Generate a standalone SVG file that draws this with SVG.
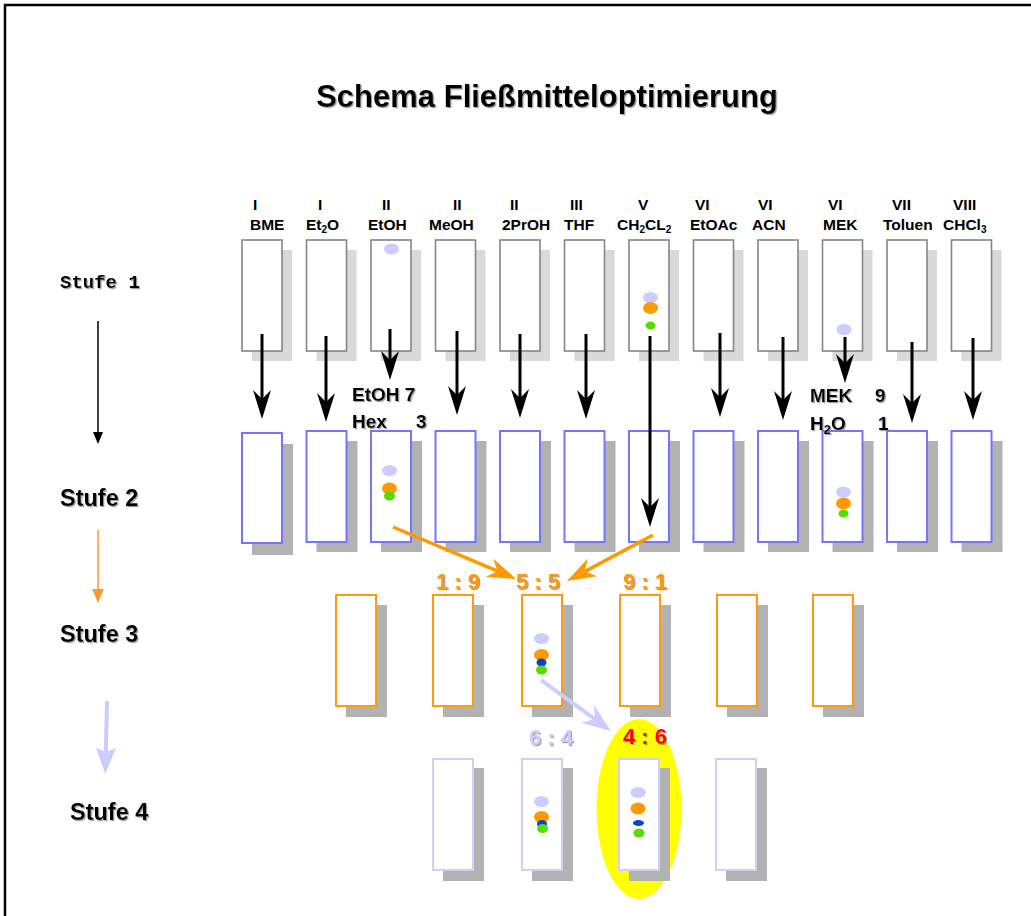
<svg xmlns="http://www.w3.org/2000/svg" width="1031" height="916" viewBox="0 0 1031 916">
<style>
.bg{fill:#fff}
.b1{fill:#fff;stroke:#858585;stroke-width:1.6}
.s1{fill:#d9d9d9}
.b2{fill:#fff;stroke:#7474ff;stroke-width:2}
.b3{fill:#fff;stroke:#ff9a0a;stroke-width:2}
.b4{fill:#fff;stroke:#cfcff9;stroke-width:2}
.s2{fill:#b2b2b2}
.hd{font-family:"Liberation Sans",Arial,sans-serif;font-weight:bold;font-size:15.5px;fill:#000}
.sub{font-size:10px}
.lbl{font-family:"Liberation Sans",Arial,sans-serif;font-weight:bold;font-size:19px;fill:#000;filter:url(#sh)}
.stm{font-family:"Liberation Mono","Courier New",monospace;font-weight:bold;font-size:19px;fill:#000;filter:url(#sh)}
.st{font-family:"Liberation Sans",Arial,sans-serif;font-weight:bold;font-size:23.5px;fill:#000;filter:url(#sh)}
.rt{font-family:"Liberation Sans",Arial,sans-serif;font-weight:bold;font-size:22px;filter:url(#sh)}
.lav{fill:#ccccff}.org{fill:#ff9900}.grn{fill:#55dd00}.blu{fill:#0044dd}
.ab{stroke:#000;stroke-width:3;fill:none;marker-end:url(#mb)}
.ao{stroke:#ff9900;stroke-width:3.5;fill:none;marker-end:url(#mo)}
.al{stroke:#ccccff;stroke-width:4;fill:none;marker-end:url(#ml)}
</style>
<defs>
<filter id="sh" x="-10%" y="-20%" width="130%" height="150%">
<feDropShadow dx="1.2" dy="1.2" stdDeviation="0.6" flood-color="#888" flood-opacity="0.8"/>
</filter>
<marker id="mb" markerUnits="userSpaceOnUse" viewBox="0 0 29 18" markerWidth="29" markerHeight="18" refX="9" refY="9" orient="auto"><path d="M0,0 L29,9 L0,18 L9,9 Z" fill="#000"/></marker>
<marker id="mo" markerUnits="userSpaceOnUse" viewBox="0 0 29 20" markerWidth="29" markerHeight="20" refX="9" refY="10" orient="auto"><path d="M0,0 L29,10 L0,20 L9,10 Z" fill="#ff9900"/></marker>
<marker id="ml" markerUnits="userSpaceOnUse" viewBox="0 0 29 22" markerWidth="29" markerHeight="22" refX="9" refY="11" orient="auto"><path d="M0,0 L29,11 L0,22 L9,11 Z" fill="#ccccff"/></marker>
<marker id="tb" markerUnits="userSpaceOnUse" viewBox="0 0 12 10" markerWidth="12" markerHeight="10" refX="1" refY="5" orient="auto"><path d="M0,0 L12,5 L0,10 Z" fill="#000"/></marker>
<marker id="to" markerUnits="userSpaceOnUse" viewBox="0 0 14 12" markerWidth="14" markerHeight="12" refX="1" refY="6" orient="auto"><path d="M0,0 L14,6 L0,12 Z" fill="#ff9933"/></marker>
<marker id="tl" markerUnits="userSpaceOnUse" viewBox="0 0 26 20" markerWidth="26" markerHeight="20" refX="4" refY="10" orient="auto"><path d="M0,0 L26,10 L0,20 L4,10 Z" fill="#ccccff"/></marker>
</defs>
<rect class="bg" x="0" y="0" width="1031" height="916"/>
<path d="M5,930 V5 H1045" fill="none" stroke="#000" stroke-width="2.5"/>
<text x="547" y="107" text-anchor="middle" style="font-family:'Liberation Sans',Arial,sans-serif;font-weight:bold;font-size:31px;filter:url(#sh)">Schema Fließmitteloptimierung</text>

<g id="stages">
<text class="stm" x="60" y="288">Stufe 1</text>
<text class="st" x="60" y="506">Stufe 2</text>
<text class="st" x="60" y="642">Stufe 3</text>
<text class="st" x="70" y="820">Stufe 4</text>
</g>

<g id="headers">
<text class="hd" x="253" y="210">I</text><text class="hd" x="250" y="230">BME</text>
<text class="hd" x="318" y="210">I</text><text class="hd" x="306" y="230">Et<tspan class="sub" dy="3">2</tspan><tspan dy="-3">O</tspan></text>
<text class="hd" x="382" y="210">II</text><text class="hd" x="368" y="230">EtOH</text>
<text class="hd" x="453" y="210">II</text><text class="hd" x="429" y="230">MeOH</text>
<text class="hd" x="510" y="210">II</text><text class="hd" x="502" y="230">2PrOH</text>
<text class="hd" x="570" y="210">III</text><text class="hd" x="564" y="230">THF</text>
<text class="hd" x="638" y="210">V</text><text class="hd" x="617" y="230">CH<tspan class="sub" dy="3">2</tspan><tspan dy="-3">CL</tspan><tspan class="sub" dy="3">2</tspan></text>
<text class="hd" x="695" y="210">VI</text><text class="hd" x="690" y="230">EtOAc</text>
<text class="hd" x="758" y="210">VI</text><text class="hd" x="752" y="230">ACN</text>
<text class="hd" x="828" y="210">VI</text><text class="hd" x="823" y="230">MEK</text>
<text class="hd" x="892" y="210">VII</text><text class="hd" x="883" y="230">Toluen</text>
<text class="hd" x="953" y="210">VIII</text><text class="hd" x="943" y="230">CHCl<tspan class="sub" dy="3">3</tspan></text>
</g>

<g id="row1">
<g id="r1c1"><rect class="s1" x="252" y="250" width="40" height="111"/><rect class="b1" x="242" y="240" width="40" height="111"/></g>
<g id="r1c2"><rect class="s1" x="316.5" y="250" width="40" height="111"/><rect class="b1" x="306.5" y="240" width="40" height="111"/></g>
<g id="r1c3"><rect class="s1" x="381" y="250" width="40" height="111"/><rect class="b1" x="371" y="240" width="40" height="111"/><ellipse class="lav" cx="391.5" cy="249" rx="7.5" ry="5.5"/></g>
<g id="r1c4"><rect class="s1" x="445.5" y="250" width="40" height="111"/><rect class="b1" x="435.5" y="240" width="40" height="111"/></g>
<g id="r1c5"><rect class="s1" x="510" y="250" width="40" height="111"/><rect class="b1" x="500" y="240" width="40" height="111"/></g>
<g id="r1c6"><rect class="s1" x="574.5" y="250" width="40" height="111"/><rect class="b1" x="564.5" y="240" width="40" height="111"/></g>
<g id="r1c7"><rect class="s1" x="639" y="250" width="40" height="111"/><rect class="b1" x="629" y="240" width="40" height="111"/><ellipse class="lav" cx="650.5" cy="297.5" rx="7.5" ry="5.5"/><ellipse class="org" cx="650.5" cy="308" rx="7.5" ry="6"/><ellipse class="grn" cx="650.5" cy="325.5" rx="5" ry="4"/></g>
<g id="r1c8"><rect class="s1" x="703.5" y="250" width="40" height="111"/><rect class="b1" x="693.5" y="240" width="40" height="111"/></g>
<g id="r1c9"><rect class="s1" x="768" y="250" width="40" height="111"/><rect class="b1" x="758" y="240" width="40" height="111"/></g>
<g id="r1c10"><rect class="s1" x="832.5" y="250" width="40" height="111"/><rect class="b1" x="822.5" y="240" width="40" height="111"/><ellipse class="lav" cx="844" cy="329.5" rx="7.5" ry="5.5"/></g>
<g id="r1c11"><rect class="s1" x="897" y="250" width="40" height="111"/><rect class="b1" x="887" y="240" width="40" height="111"/></g>
<g id="r1c12"><rect class="s1" x="961.5" y="250" width="40" height="111"/><rect class="b1" x="951.5" y="240" width="40" height="111"/></g>
</g>

<g id="row2">
<g id="r2c1"><rect class="s2" x="252" y="444" width="41" height="111"/><rect class="b2" x="242" y="433" width="40" height="110"/></g>
<g id="r2c2"><rect class="s2" x="316.5" y="441" width="41" height="111"/><rect class="b2" x="306.5" y="431" width="40" height="111"/></g>
<g id="r2c3"><rect class="s2" x="381" y="441" width="41" height="111"/><rect class="b2" x="371" y="431" width="40" height="111"/><ellipse class="lav" cx="389.5" cy="470.5" rx="7.5" ry="5.5"/><ellipse class="org" cx="389.5" cy="488.5" rx="7.5" ry="6"/><ellipse class="grn" cx="389.5" cy="496" rx="5.5" ry="4.5"/></g>
<g id="r2c4"><rect class="s2" x="445.5" y="441" width="41" height="111"/><rect class="b2" x="435.5" y="431" width="40" height="111"/></g>
<g id="r2c5"><rect class="s2" x="510" y="441" width="41" height="111"/><rect class="b2" x="500" y="431" width="40" height="111"/></g>
<g id="r2c6"><rect class="s2" x="574.5" y="441" width="41" height="111"/><rect class="b2" x="564.5" y="431" width="40" height="111"/></g>
<g id="r2c7"><rect class="s2" x="639" y="441" width="41" height="111"/><rect class="b2" x="629" y="431" width="40" height="111"/></g>
<g id="r2c8"><rect class="s2" x="703.5" y="441" width="41" height="111"/><rect class="b2" x="693.5" y="431" width="40" height="111"/></g>
<g id="r2c9"><rect class="s2" x="768" y="441" width="41" height="111"/><rect class="b2" x="758" y="431" width="40" height="111"/></g>
<g id="r2c10"><rect class="s2" x="832.5" y="441" width="41" height="111"/><rect class="b2" x="822.5" y="431" width="40" height="111"/><ellipse class="lav" cx="843.5" cy="492" rx="7.5" ry="5.5"/><ellipse class="org" cx="843.5" cy="503.5" rx="7.5" ry="6"/><ellipse class="grn" cx="843.5" cy="513.5" rx="5" ry="4"/></g>
<g id="r2c11"><rect class="s2" x="897" y="441" width="41" height="111"/><rect class="b2" x="887" y="431" width="40" height="111"/></g>
<g id="r2c12"><rect class="s2" x="961.5" y="441" width="41" height="111"/><rect class="b2" x="951.5" y="431" width="40" height="111"/></g>
</g>

<g id="row3">
<g id="r3c1"><rect class="s2" x="346" y="605" width="41" height="112"/><rect class="b3" x="336" y="595" width="40" height="111"/></g>
<g id="r3c2"><rect class="s2" x="443" y="605" width="41" height="112"/><rect class="b3" x="433" y="595" width="40" height="111"/></g>
<g id="r3c3"><rect class="s2" x="532" y="605" width="41" height="112"/><rect class="b3" x="522" y="595" width="40" height="111"/><ellipse class="lav" cx="541.5" cy="638.5" rx="7.5" ry="5.5"/><ellipse class="org" cx="541.5" cy="655" rx="7.5" ry="6"/><ellipse class="blu" cx="541.5" cy="662.5" rx="5" ry="4"/><ellipse class="grn" cx="541.5" cy="670" rx="5.5" ry="4.5"/></g>
<g id="r3c4"><rect class="s2" x="630" y="605" width="41" height="112"/><rect class="b3" x="620" y="595" width="40" height="111"/></g>
<g id="r3c5"><rect class="s2" x="727" y="605" width="41" height="112"/><rect class="b3" x="717" y="595" width="40" height="111"/></g>
<g id="r3c6"><rect class="s2" x="823" y="605" width="41" height="112"/><rect class="b3" x="813" y="595" width="40" height="111"/></g>
</g>

<g id="row4">
<ellipse id="highlight" cx="639" cy="809" rx="42.5" ry="90" fill="#ffff00"/>
<g id="r4c1"><rect class="s2" x="443" y="768" width="41" height="113"/><rect class="b4" x="433" y="759" width="40" height="111"/></g>
<g id="r4c2"><rect class="s2" x="532" y="768" width="41" height="113"/><rect class="b4" x="522" y="759" width="40" height="111"/><ellipse class="lav" cx="541.5" cy="801.5" rx="7.5" ry="5.5"/><ellipse class="org" cx="541.5" cy="817" rx="7.5" ry="6"/><ellipse class="blu" cx="542" cy="824" rx="5" ry="4"/><ellipse class="grn" cx="542.5" cy="828.5" rx="5.5" ry="4.5"/></g>
<g id="r4c3"><rect class="s2" x="629" y="768" width="41" height="113"/><rect class="b4" x="619" y="759" width="40" height="111"/><ellipse class="lav" cx="638" cy="792.5" rx="7.5" ry="5.5"/><ellipse class="org" cx="638" cy="808.5" rx="7.5" ry="6"/><ellipse class="blu" cx="638.5" cy="823" rx="5.5" ry="3"/><ellipse class="grn" cx="639" cy="833" rx="5.5" ry="4.5"/></g>
<g id="r4c4"><rect class="s2" x="726" y="768" width="41" height="113"/><rect class="b4" x="716" y="759" width="40" height="111"/></g>
</g>

<g id="mixtures">
<text class="lbl" x="352" y="401">EtOH 7</text>
<text class="lbl" x="352" y="428">Hex<tspan x="416">3</tspan></text>
<text class="lbl" x="810" y="402">MEK<tspan x="875">9</tspan></text>
<text class="lbl" x="810" y="430">H<tspan style="font-size:13px" dy="4">2</tspan><tspan dy="-4">O</tspan><tspan x="878">1</tspan></text>
</g>

<g id="ratios">
<text class="rt" x="436" y="589" fill="#ff9900">1 : 9</text>
<text class="rt" x="516" y="589" fill="#ff9900">5 : 5</text>
<text class="rt" x="623" y="589" fill="#ff9900">9 : 1</text>
<text class="rt" x="529" y="745" fill="#ccccff">6 : 4</text>
<text class="rt" x="623" y="744" fill="#ff0000">4 : 6</text>
</g>

<g id="connectors">
<line x1="98" y1="321" x2="98" y2="433" stroke="#000" stroke-width="1.5" marker-end="url(#tb)"/>
<line x1="98" y1="530" x2="98" y2="590" stroke="#ff9933" stroke-width="1.5" marker-end="url(#to)"/>
<line x1="107" y1="701" x2="105.8" y2="752" stroke="#ccccff" stroke-width="4" marker-end="url(#tl)"/>
<line class="ab" x1="262" y1="334" x2="262" y2="399"/>
<line class="ab" x1="326" y1="336" x2="326" y2="402"/>
<line class="ab" x1="390" y1="329" x2="390" y2="360"/>
<line class="ab" x1="457" y1="331" x2="457" y2="395"/>
<line class="ab" x1="520" y1="334" x2="520" y2="398"/>
<line class="ab" x1="586" y1="334" x2="586" y2="399"/>
<line class="ab" x1="650" y1="336" x2="650" y2="507"/>
<line class="ab" x1="720" y1="333" x2="720" y2="397"/>
<line class="ab" x1="783" y1="337" x2="783" y2="400"/>
<line class="ab" x1="845" y1="337" x2="845" y2="363"/>
<line class="ab" x1="912" y1="342" x2="912" y2="403"/>
<line class="ab" x1="973" y1="338" x2="973" y2="400"/>
<line class="ao" x1="393" y1="527" x2="497.6" y2="571.2"/>
<line class="ao" x1="653" y1="535" x2="584.6" y2="571.6"/>
<line class="al" x1="541" y1="680" x2="594.8" y2="719.2"/>
</g>
</svg>
